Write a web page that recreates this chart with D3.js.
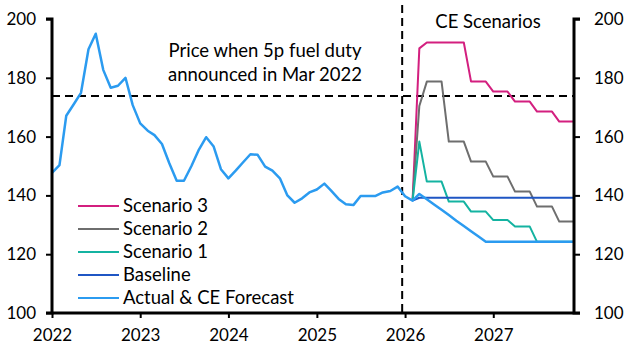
<!DOCTYPE html>
<html>
<head>
<meta charset="utf-8">
<script src="https://cdn.jsdelivr.net/npm/d3@7"></script>
<style>
  body { margin: 0; background: #fff; }
  svg { font-family: Lato, "Open Sans", sans-serif; }
</style>
</head>
<body>
<script>
// monthly values, Jan 2022 - Dec 2027 (actual, then CE forecast)
var actual = [
  147.7, 150.3, 167.1, 171.0, 174.9, 189.7, 195.0, 182.7, 176.6, 177.3, 180.0, 170.7,
  164.5, 162.0, 160.5, 157.5, 151.0, 145.0, 145.0, 150.0, 155.6, 159.8, 156.6, 148.9,
  145.8, 148.5, 151.2, 154.0, 153.8, 149.8, 148.4, 145.8, 140.0, 137.5, 139.0, 141.0,
  142.0, 144.0, 141.6, 138.8, 137.0, 136.7, 139.8, 139.8, 139.8, 141.0, 141.5, 143.0,
  139.7, 138.2, 140.5, 138.7, 136.9, 135.1, 133.3, 131.4, 129.6, 127.8, 126.0, 124.2,
  124.2, 124.2, 124.2, 124.2, 124.2, 124.2, 124.2, 124.2, 124.2, 124.2, 124.2, 124.2
];
// scenarios, Feb 2026 - Dec 2027
var baseline = [138.2, 139.2, 139.2, 139.2, 139.2, 139.2, 139.2, 139.2, 139.2, 139.2, 139.2,
  139.2, 139.2, 139.2, 139.2, 139.2, 139.2, 139.2, 139.2, 139.2, 139.2, 139.2, 139.2];
var scenario1 = [138.2, 158.3, 144.7, 144.7, 144.7, 137.9, 137.9, 137.9, 134.5, 134.5, 134.5,
  131.6, 131.6, 131.6, 129.4, 129.4, 129.4, 124.2, 124.2, 124.2, 124.2, 124.2, 124.2];
var scenario2 = [138.2, 170.4, 178.7, 178.7, 178.7, 158.3, 158.3, 158.3, 151.5, 151.5, 151.5,
  146.4, 146.4, 146.4, 141.3, 141.3, 141.3, 136.2, 136.2, 136.2, 131.1, 131.1, 131.1];
var scenario3 = [138.2, 190.0, 192.0, 192.0, 192.0, 192.0, 192.0, 192.0, 178.7, 178.7, 178.7,
  175.3, 175.3, 175.3, 171.9, 171.9, 171.9, 168.5, 168.5, 168.5, 165.1, 165.1, 165.1];

var yTicks = [100, 120, 140, 160, 180, 200];
var xTickYears = [2022, 2023, 2024, 2025, 2026, 2027];
var duty2022 = 173.8;   // price when 5p cut announced
var legendNames = ["Scenario 3", "Scenario 2", "Scenario 1", "Baseline", "Actual & CE Forecast"];
var colors = ["#d31f7f", "#6e6e6e", "#14b3a1", "#1f56c4", "#2b9bf0"];

function init(){
    var w = 627;
    var h = 352;
    var margin = {left: 52, right: 53, top: 19, bottom: 39};
    var labelSize = "18.5px";

    var start = new Date(2022, 0, 1);
    var scenStart = new Date(2026, 1, 1);

    function month(d0, i) {
        return new Date(d0.getFullYear(), d0.getMonth() + i, 1);
    }

    var xScale = d3.scaleTime()
                    .domain([start, new Date(2027, 11, 1)])
                    .range([margin.left, w - margin.right]);

    var yScale = d3.scaleLinear()
                    .domain([100, 200])
                    .range([h - margin.bottom, margin.top]);

    var svg = d3.select("body")
        .append("svg")
        .attr("width", w)
        .attr("height", h);

    //Reference lines
    svg.append("line")
        .attr("x1", xScale.range()[0])
        .attr("x2", xScale.range()[1])
        .attr("y1", yScale(duty2022))
        .attr("y2", yScale(duty2022))
        .attr("stroke", "#000")
        .attr("stroke-width", 2)
        .attr("stroke-dasharray", "8,5");

    var xSplit = xScale(new Date(2025, 11, 20));
    svg.append("line")
        .attr("x1", xSplit)
        .attr("x2", xSplit)
        .attr("y1", 5)
        .attr("y2", yScale(100))
        .attr("stroke", "#000")
        .attr("stroke-width", 2)
        .attr("stroke-dasharray", "8,5");

    //Lines
    var line = d3.line()
        .x(function(d) { return xScale(d.date); })
        .y(function(d) { return yScale(d.value); });

    function toPoints(arr, d0) {
        return arr.map(function(v, i) { return {date: month(d0, i), value: v}; });
    }

    var series = [
        {values: toPoints(scenario3, scenStart), color: colors[0], width: 2},
        {values: toPoints(scenario2, scenStart), color: colors[1], width: 2},
        {values: toPoints(scenario1, scenStart), color: colors[2], width: 2},
        {values: toPoints(baseline, scenStart), color: colors[3], width: 2},
        {values: toPoints(actual, start), color: colors[4], width: 2.5}
    ];

    svg.selectAll("path.series")
        .data(series)
        .enter()
        .append("path")
        .attr("class", "series")
        .attr("d", function(d) { return line(d.values); })
        .attr("fill", "none")
        .attr("stroke", function(d) { return d.color; })
        .attr("stroke-width", function(d) { return d.width; })
        .attr("stroke-linejoin", "round");

    //Axes
    var yAxisL = d3.axisLeft(yScale).tickValues(yTicks).tickSize(6).tickPadding(10);
    var yAxisR = d3.axisRight(yScale).tickValues(yTicks).tickSize(6).tickPadding(14);
    var xAxis = d3.axisBottom(xScale)
        .tickValues(xTickYears.map(function(y) { return new Date(y, 0, 1); }))
        .tickFormat(d3.timeFormat("%Y"))
        .tickSize(5).tickPadding(11);

    var gx = svg.append("g")
        .attr("transform", "translate(0," + yScale(100) + ")")
        .call(xAxis);
    var gl = svg.append("g")
        .attr("transform", "translate(" + margin.left + ",0)")
        .call(yAxisL);
    var gr = svg.append("g")
        .attr("transform", "translate(" + (w - margin.right) + ",0)")
        .call(yAxisR);

    [gx, gl, gr].forEach(function(g) {
        g.select(".domain").attr("stroke-width", 3).attr("stroke", "#000");
        g.selectAll(".tick line").attr("stroke-width", 2).attr("stroke", "#000");
        g.selectAll(".tick text")
            .attr("font-family", "Lato, sans-serif")
            .attr("font-size", "17px")
            .attr("fill", "#000");
    });
    gl.select(".domain").attr("d", "M-6," + yScale(200) + "H0V" + yScale(100) + "H-6");
    gr.select(".domain").attr("d", "M6," + yScale(200) + "H0V" + yScale(100) + "H6");
    gx.select(".domain").attr("d", "M" + xScale.range()[0] + ",0H" + xScale.range()[1]);

    //Annotations
    var ann = svg.append("text")
        .attr("text-anchor", "middle")
        .attr("font-size", labelSize)
        .attr("fill", "#000");
    ann.append("tspan").attr("x", 265).attr("y", 57).text("Price when 5p fuel duty");
    ann.append("tspan").attr("x", 265).attr("y", 81).text("announced in Mar 2022");

    svg.append("text")
        .attr("x", 488)
        .attr("y", 28)
        .attr("text-anchor", "middle")
        .attr("font-size", labelSize)
        .attr("fill", "#000")
        .text("CE Scenarios");

    //Legend
    var legend = svg.selectAll("g.legend")
        .data(legendNames)
        .enter()
        .append("g")
        .attr("class", "legend")
        .attr("transform", function(d, i) { return "translate(78," + (206 + i * 23) + ")"; });

    legend.append("line")
        .attr("x1", 0)
        .attr("x2", 41)
        .attr("stroke", function(d, i) { return colors[i]; })
        .attr("stroke-width", 2);

    legend.append("text")
        .attr("x", 45)
        .attr("y", 6)
        .attr("font-size", labelSize)
        .attr("fill", "#000")
        .text(function(d) { return d; });
}
window.onload = init;
</script>
</body>
</html>
